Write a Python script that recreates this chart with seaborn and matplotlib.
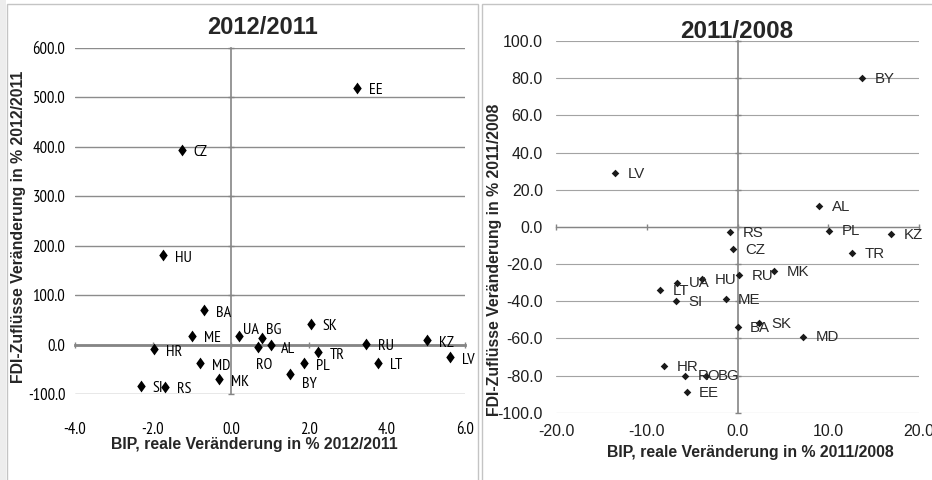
import numpy as np
import pandas as pd
import matplotlib
matplotlib.use('Agg')
import matplotlib.pyplot as plt
from matplotlib.patches import Rectangle
from matplotlib.ticker import FormatStrFormatter
import seaborn as sns

# Daten 2012/2011
laender_12 = ['EE', 'CZ', 'HU', 'BA', 'ME', 'UA', 'BG', 'RO', 'AL', 'SK', 'TR',
              'PL', 'BY', 'RU', 'LT', 'KZ', 'LV', 'HR', 'MD', 'MK', 'SI', 'RS']
bip_12 = [3.23, -1.26, -1.74, -0.69, -1.0, 0.21, 0.79, 0.70, 1.02, 2.04, 2.22,
          1.87, 1.51, 3.46, 3.76, 5.02, 5.61, -1.97, -0.8, -0.3, -2.31, -1.69]
fdi_12 = [519, 394, 180, 69, 18, 18, 14, -4, 0, 42, -16,
          -38, -59, 2, -37, 9, -26, -10, -38, -70, -83, -85]

# Daten 2011/2008
laender_08 = ['BY', 'LV', 'AL', 'RS', 'PL', 'KZ', 'CZ', 'TR', 'MK', 'RU', 'HU',
              'UA', 'LT', 'SI', 'ME', 'BA', 'SK', 'MD', 'HR', 'RO', 'BG', 'EE']
bip_08 = [13.7, -13.5, 9.0, -0.8, 10.1, 16.9, -0.5, 12.6, 4.0, 0.2, -3.9,
          -6.7, -8.5, -6.8, -1.3, 0.0, 2.4, 7.2, -8.1, -5.8, -3.5, -5.6]
fdi_08 = [80, 29, 11, -3, -2, -4, -12, -14, -24, -26, -28,
          -30, -34, -40, -39, -54, -52, -59, -75, -80, -80, -89]

xticks_12 = [-4, -2, 0, 2, 4, 6]
yticks_12 = [-100, 0, 100, 200, 300, 400, 500, 600]
xticks_08 = [-20, -10, 0, 10, 20]
yticks_08 = [-100, -80, -60, -40, -20, 0, 20, 40, 60, 80, 100]

df12 = pd.DataFrame({'land': laender_12, 'bip': bip_12, 'fdi': fdi_12})
df08 = pd.DataFrame({'land': laender_08, 'bip': bip_08, 'fdi': fdi_08})

sns.set_theme(style='white')
plt.rcParams['font.family'] = ['Liberation Sans', 'DejaVu Sans']
plt.rcParams['axes.unicode_minus'] = False

NARROW = ['PT Sans Narrow', 'Carlito', 'DejaVu Sans']
ARIAL = ['Liberation Sans', 'DejaVu Sans']

fig = plt.figure(figsize=(9.32, 4.8), dpi=100)
fig.patch.set_facecolor('white')

# Rahmen der beiden Bilder
fig.patches.append(Rectangle((7 / 932, -0.01), 471 / 932, 1 - 4 / 480 + 0.01, transform=fig.transFigure,
                             fill=False, edgecolor='#c4c4c4', lw=1.0))
fig.patches.append(Rectangle((482 / 932, -0.01), 460 / 932, 1 - 4 / 480 + 0.01, transform=fig.transFigure,
                             fill=False, edgecolor='#c4c4c4', lw=1.0))
fig.patches.append(Rectangle((0, 0), 6 / 932, 1, transform=fig.transFigure,
                             facecolor='#ededed', edgecolor='none'))

ax1 = fig.add_axes([75 / 932, 1 - 394 / 480, 390 / 932, 346.3 / 480])
ax2 = fig.add_axes([556 / 932, 1 - 412.7 / 480, 363 / 932, 371.7 / 480])


def achsen(ax, xticks, yticks, grid_c, grid_lw, x0_lw, y0_lw, font, fs, xpad, ypad, tcolor):
    ax.set_xlim(xticks[0], xticks[-1])
    ax.set_ylim(yticks[0], yticks[-1])
    ax.set_xticks(xticks)
    ax.set_yticks(yticks)
    ax.grid(axis='y', color=grid_c, lw=grid_lw)
    ax.grid(axis='x', visible=False)
    ax.set_axisbelow(True)
    for s in ['top', 'right']:
        ax.spines[s].set_visible(False)
    ax.spines['left'].set_position(('data', 0))
    ax.spines['bottom'].set_position(('data', 0))
    ax.spines['left'].set_color('#858585')
    ax.spines['left'].set_linewidth(x0_lw)
    ax.spines['bottom'].set_color('#858585')
    ax.spines['bottom'].set_linewidth(y0_lw)
    ax.tick_params(axis='both', direction='inout', length=4, width=1, color='#858585',
                   labelleft=False, labelbottom=False, left=True, bottom=True)
    ax.set_xlabel('')
    ax.set_ylabel('')
    ax.set_facecolor('none')

    # Beschriftung am Rand, Achsenlinien im Nullpunkt
    sx = ax.secondary_xaxis('bottom')
    sx.set_xticks(xticks)
    sx.xaxis.set_major_formatter(FormatStrFormatter('%.1f'))
    sx.tick_params(length=0, pad=xpad, labelsize=fs, labelcolor=tcolor, labelfontfamily=font)
    sx.spines['bottom'].set_visible(False)
    sy = ax.secondary_yaxis('left')
    sy.set_yticks(yticks)
    sy.yaxis.set_major_formatter(FormatStrFormatter('%.1f'))
    sy.tick_params(length=0, pad=ypad, labelsize=fs, labelcolor=tcolor, labelfontfamily=font)
    sy.spines['left'].set_visible(False)


# Linkes Diagramm 2012/2011
raute_hoch = [(0, 1), (0.72, 0), (0, -1), (-0.72, 0), (0, 1)]
sns.scatterplot(data=df12, x='bip', y='fdi', ax=ax1, marker=raute_hoch, s=72,
                color='black', linewidth=0, zorder=5, legend=False)
achsen(ax1, xticks_12, yticks_12, '#8c8c8c', 1.0, 1.2, 2.0, NARROW, 12, 20, 7, 'black')

versatz_12 = {'UA': (3, 4.3), 'BG': (3, 5.8), 'RO': (-2, -13), 'BY': (8.6, -7.2), 'AL': (7.2, -2.9)}
for land, x, y in zip(df12['land'], df12['bip'], df12['fdi']):
    ax1.annotate(land, (x, y), xytext=versatz_12.get(land, (8.6, -1.8)), textcoords='offset points',
                 ha='left', va='center', fontsize=11.5, family=NARROW, color='black',
                 annotation_clip=False, zorder=6)

# Rechtes Diagramm 2011/2008
raute = [(0, 1), (1, 0), (0, -1), (-1, 0), (0, 1)]
sns.scatterplot(data=df08, x='bip', y='fdi', ax=ax2, marker=raute, s=30,
                color='#1a1a1a', linewidth=0, zorder=5, legend=False)
achsen(ax2, xticks_08, yticks_08, '#a3a3a3', 0.8, 1.2, 1.0, ARIAL, 11.5, 8, 9.5, '#1e1e1e')

for land, x, y in zip(df08['land'], df08['bip'], df08['fdi']):
    ax2.annotate(land, (x, y), xytext=(9, -0.5), textcoords='offset points',
                 ha='left', va='center', fontsize=10.8, family=ARIAL, color='#2a2a2a',
                 annotation_clip=False, zorder=6)

# Titel und Achsenbeschriftungen
fig.text(262 / 932, 1 - 27 / 480, '2012/2011', ha='center', va='center',
         fontsize=17, fontweight='bold', color='#262626')
fig.text(737 / 932, 1 - 32 / 480, '2011/2008', ha='center', va='center',
         fontsize=17.5, fontweight='bold', color='#262626', zorder=10)
fig.text(254 / 932, 1 - 444 / 480, 'BIP, reale Veränderung in % 2012/2011', ha='center', va='center',
         fontsize=11.4, fontweight='bold', color='#262626')
fig.text(750 / 932, 1 - 452 / 480, 'BIP, reale Veränderung in % 2011/2008', ha='center', va='center',
         fontsize=11.4, fontweight='bold', color='#262626')
fig.text(19 / 932, 1 - 227 / 480, 'FDI-Zuflüsse Veränderung in % 2012/2011', ha='center', va='center',
         rotation=90, fontsize=11.4, fontweight='bold', color='#262626')
fig.text(495 / 932, 1 - 260 / 480, 'FDI-Zuflüsse Veränderung in % 2011/2008', ha='center', va='center',
         rotation=90, fontsize=11.4, fontweight='bold', color='#262626')

plt.savefig('out.png', dpi=100)
plt.close()
